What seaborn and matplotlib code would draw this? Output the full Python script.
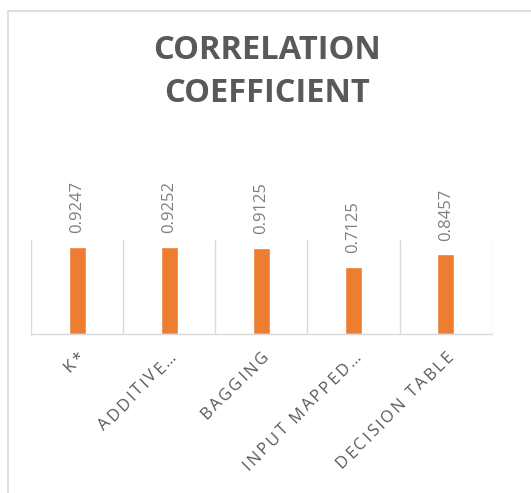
import numpy as np
import pandas as pd
import seaborn as sns
import matplotlib.pyplot as plt
from matplotlib.lines import Line2D
from matplotlib.font_manager import FontProperties, findfont, get_font

# data
models = ["K*", "ADDITIVE…", "BAGGING", "INPUT MAPPED…", "DECISION TABLE"]
values = [0.9247, 0.9252, 0.9125, 0.7125, 0.8457]
value_labels = ["0.9247", "0.9252", "0.9125", "0.7125", "0.8457"]

df = pd.DataFrame({"model": models, "value": values})

sns.set_style("white")
plt.rcParams["font.family"] = ["Open Sans", "DejaVu Sans"]

DPI = 100
fig = plt.figure(figsize=(5.31, 4.93), dpi=DPI)
ax = fig.add_axes([31 / 531, 1 - 333.5 / 493, (491.7 - 31) / 531, (333.5 - 240) / 493])

sns.barplot(data=df, x="model", y="value", color="#ED7D31", width=0.185,
            saturation=1, ax=ax)

ax.set_ylim(0, 1)
ax.set_xlim(-0.5, len(models) - 0.5)
ax.set_yticks([])
ax.set_xlabel("")
ax.set_ylabel("")

# vertical separators between categories
ax.set_xticks(np.arange(-0.5, len(models), 1), minor=True)
ax.grid(which="minor", axis="x", color="#d9d9d9", linewidth=1)
ax.tick_params(which="both", length=0)
for side in ["top", "left", "right"]:
    ax.spines[side].set_visible(False)
ax.spines["bottom"].set_color("#d9d9d9")
ax.spines["bottom"].set_linewidth(1)
ax.set_xticks(range(len(models)))
ax.set_xticklabels([])

# category labels: rotated 45 deg, with letter spacing like the original
fp = FontProperties(family="Open Sans", size=12)
font = get_font(findfont(fp))
font.set_size(fp.get_size_in_points(), DPI)
tracking = 2.3  # px between letters
d = np.array([np.cos(np.pi / 4), np.sin(np.pi / 4)])
end = np.array([8.0, -24.0])  # baseline end of label, px from tick (y up)


def advance(ch):
    g = font.load_char(ord(ch))
    return g.linearHoriAdvance / 65536


for i, lab in enumerate(models):
    widths = [advance(c) for c in lab]
    total = sum(widths) + tracking * (len(lab) - 1)
    pos = end - total * d
    for ch, w in zip(lab, widths):
        if ch != " ":
            ax.annotate(ch, xy=(i, 0), xycoords=("data", "axes fraction"),
                        xytext=tuple(pos), textcoords="offset pixels",
                        rotation=45, rotation_mode="anchor", ha="left",
                        va="baseline", fontproperties=fp, color="#595959",
                        annotation_clip=False)
        pos = pos + (w + tracking) * d

# value labels above bars
for i, v in enumerate(values):
    ax.annotate(value_labels[i], (i, v), xytext=(0, 10), textcoords="offset points",
                rotation=90, ha="center", va="bottom", color="#7f7f7f", fontsize=12)

fig.text(0.502, 0.897, "CORRELATION", ha="center", va="center", fontsize=23.5,
         fontweight="bold", color="#595959")
fig.text(0.502, 0.810, "COEFFICIENT", ha="center", va="center", fontsize=23.5,
         fontweight="bold", color="#595959")

# chart frame (left and top edges visible)
fig.add_artist(Line2D([7.5 / 531, 7.5 / 531, 1], [0, 1 - 10.5 / 493, 1 - 10.5 / 493],
                      transform=fig.transFigure, color="#d9d9d9", linewidth=1.2))

fig.savefig("out.png", dpi=DPI)
